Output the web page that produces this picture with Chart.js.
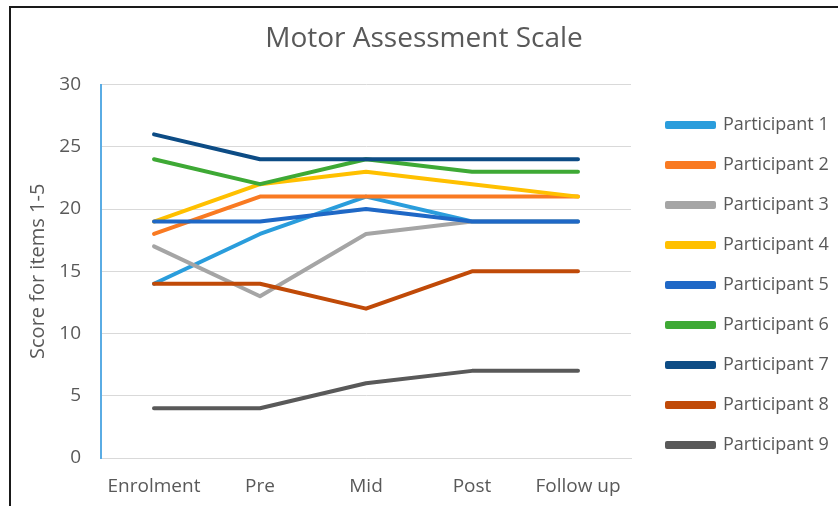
<!DOCTYPE html>
<html>
<head>
<meta charset="utf-8">
<script src="https://cdn.jsdelivr.net/npm/chart.js@4"></script>
<style>
  html, body { margin: 0; padding: 0; background: #fff; }
  #wrap { position: relative; width: 838px; height: 506px; overflow: hidden; }
  #frame { position: absolute; left: 9px; top: 6px; right: -4px; bottom: -4px; border-left: 2px solid #1a1a1a; border-top: 2px solid #1a1a1a; pointer-events: none; }
</style>
</head>
<body>
<div id="wrap">
  <canvas id="chart" width="838" height="506"></canvas>
  <div id="frame"></div>
</div>
<script>
// stages of assessment
const stages = ['Enrolment', 'Pre', 'Mid', 'Post', 'Follow up'];
const names = ['Participant 1', 'Participant 2', 'Participant 3', 'Participant 4', 'Participant 5',
  'Participant 6', 'Participant 7', 'Participant 8', 'Participant 9'];

// scores
const p1 = [14, 18, 21, 19, 19];
const p2 = [18, 21, 21, 21, 21];
const p3 = [17, 13, 18, 19, 19];
const p4 = [19, 22, 23, 22, 21];
const p5 = [19, 19, 20, 19, 19];
const p6 = [24, 22, 24, 23, 23];
const p7 = [26, 24, 24, 24, 24];
const p8 = [14, 14, 12, 15, 15];
const p9 = [4, 4, 6, 7, 7];
const series = [p1, p2, p3, p4, p5, p6, p7, p8, p9];

const colors = ['#2a9ddc', '#f97a22', '#a5a5a5', '#ffc000', '#1f68c6', '#3ea935', '#0d4c85', '#c04a08', '#595959'];

const yMin = 0, yMax = 30, yStep = 5;
const textColor = '#595959';

Chart.defaults.font.family = "'Open Sans', sans-serif";
Chart.defaults.color = textColor;

const datasets = series.map((d, i) => ({
  label: names[i],
  data: d,
  borderColor: colors[i],
  backgroundColor: colors[i],
  borderWidth: 4,
  borderCapStyle: 'round',
  borderJoinStyle: 'round',
  pointRadius: 0,
  tension: 0,
  order: series.length - i   // later series drawn on top, like the original
}));

new Chart(document.getElementById('chart'), {
  type: 'line',
  data: { labels: stages, datasets },
  options: {
    responsive: false,
    animation: false,
    layout: { padding: { left: 10, right: 0, top: 0, bottom: 0 } },
    plugins: {
      title: {
        display: true,
        text: 'Motor Assessment Scale',
        color: textColor,
        font: { size: 28, weight: 'normal' },
        padding: { top: 22, bottom: 29 }
      },
      legend: {
        position: 'right',
        align: 'start',
        maxWidth: 193,
        title: { display: true, text: ' ', font: { size: 10 }, padding: { top: 82, bottom: 0 } },
        labels: {
          boxWidth: 47,
          boxHeight: 4,
          padding: 22,
          color: textColor,
          font: { size: 18 },
          sort: (a, b) => a.datasetIndex - b.datasetIndex
        }
      },
      tooltip: { enabled: false }
    },
    scales: {
      x: {
        offset: true,
        grid: { display: false, drawTicks: false },
        border: { color: '#d9d9d9' },
        ticks: { padding: 17, color: textColor, font: { size: 19 } },
        afterFit: s => { s.height = 48; }
      },
      y: {
        min: yMin,
        max: yMax,
        ticks: { stepSize: yStep, padding: 20, color: textColor, font: { size: 19 } },
        grid: { color: '#d9d9d9', drawTicks: false },
        border: { color: '#5aace4', width: 2 },
        title: { display: true, text: 'Score for items 1-5', color: textColor, font: { size: 20 }, padding: { top: 16, bottom: 0 } },
        afterFit: s => { s.width = 91; }
      },
      gap: {
        position: 'right',
        grid: { display: false, drawTicks: false },
        ticks: { display: false },
        border: { display: false },
        afterFit: s => { s.width = 14; }
      }
    }
  }
});
</script>
</body>
</html>
